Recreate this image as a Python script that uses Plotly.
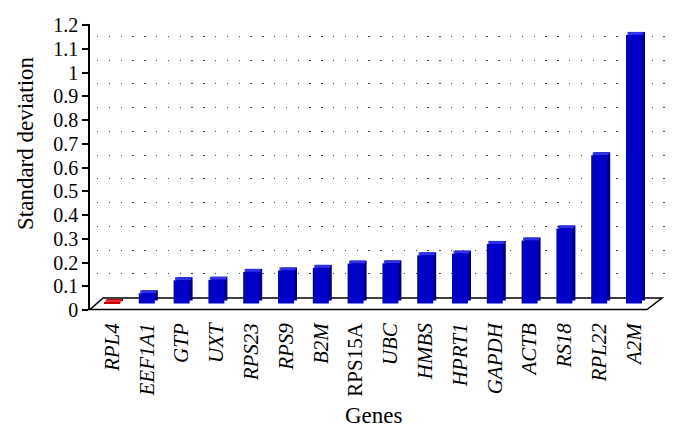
import plotly.graph_objects as go

# ---- data ----
genes = ["RPL4", "EEF1A1", "GTP", "UXT", "RPS23", "RPS9", "B2M", "RPS15A",
         "UBC", "HMBS", "HPRT1", "GAPDH", "ACTB", "RS18", "RPL22", "A2M"]
std_dev = [0.004, 0.043, 0.098, 0.100, 0.133, 0.139, 0.150, 0.168,
           0.169, 0.203, 0.210, 0.251, 0.265, 0.316, 0.624, 1.131]
upright_labels = ["RPS15A"]
highlight = ["RPL4"]
y_title = "Standard deviation"
x_title = "Genes"

# ---- geometry helpers (window pixels -> paper fractions) ----
OFF = 8                 # default page body margin
W, H = 676 - 2 * OFF, 436 - 2 * OFF
def px(x):
    return (x - OFF) / W
def py(y):
    return 1 - (y - OFF) / H

scale = 237.5          # px per unit
x_left, x_right = 90, 665
y_zero_front, y_top = 310, 24
y_zero_bar = 303.5
y_zero_back, y_top_back = 297.5, 12
cat_w = 34.8
first_center = 112

x_rng = [-0.5 - (first_center - cat_w / 2 - x_left) / cat_w,
         (x_right - first_center) / cat_w]
y2_max = (y_zero_front - y_top) / scale
shift = (y_zero_front - y_zero_bar) / scale

bar_w = 0.46
dx = 3 / cat_w
dy = 3 / scale

front_col = ["#c40000" if g in highlight else "#0000c8" for g in genes]
side_col = ["#7a0000" if g in highlight else "#000070" for g in genes]
top_col = ["#e83030" if g in highlight else "#3030ee" for g in genes]
ticktext = [g if g in upright_labels else f"<i>{g}</i>" for g in genes]

fig = go.Figure()

# dummy traces so the grid subplot and the label subplot exist
fig.add_trace(go.Scatter(x=[0], y=[None], xaxis="x", yaxis="y",
                         showlegend=False, hoverinfo="skip"))
fig.add_trace(go.Scatter(x=[genes[0]], y=[None], xaxis="x2", yaxis="y2",
                         showlegend=False, hoverinfo="skip"))

# side/back face
fig.add_trace(go.Bar(x=genes, y=std_dev, base=[dy] * len(genes),
                     width=bar_w, offset=-bar_w / 2 + dx,
                     marker=dict(color=side_col, line=dict(width=0)),
                     xaxis="x2", yaxis="y3", showlegend=False))
# top face
fig.add_trace(go.Bar(x=genes, y=[dy] * len(genes), base=std_dev,
                     width=bar_w, offset=-bar_w / 2 + dx / 2,
                     marker=dict(color=top_col, line=dict(width=0)),
                     xaxis="x2", yaxis="y3", showlegend=False))
# front face
fig.add_trace(go.Bar(x=genes, y=std_dev,
                     width=bar_w, offset=-bar_w / 2,
                     marker=dict(color=front_col, line=dict(width=0)),
                     xaxis="x2", yaxis="y3", showlegend=False))

serif = "Liberation Serif"

fig.update_layout(
    width=W, height=H,
    autosize=False,
    margin=dict(l=0, r=0, t=0, b=0, pad=0),
    paper_bgcolor="white",
    plot_bgcolor="rgba(0,0,0,0)",
    barmode="overlay",
    font=dict(family=serif, size=20, color="black"),
    xaxis=dict(domain=[px(97), px(x_right)], visible=False, range=[0, 1],
               anchor="y", automargin=False),
    yaxis=dict(domain=[py(y_zero_back), py(y_top_back)],
               range=[0, (y_zero_back - y_top_back) / scale],
               anchor="x", tick0=0, dtick=0.1, showgrid=True,
               gridcolor="#444444", gridwidth=1.3, griddash="1.3px,10.5px",
               showticklabels=False, zeroline=False, showline=False, ticks="",
               automargin=False),
    xaxis2=dict(domain=[px(x_left), px(x_right)], anchor="y2",
                type="category", range=x_rng,
                tickmode="array", tickvals=genes, ticktext=ticktext,
                tickangle=-90, tickfont=dict(family=serif, size=21),
                ticks="", ticklabelstandoff=8, automargin=False,
                showgrid=False, showline=False, zeroline=False),
    yaxis2=dict(domain=[py(y_zero_front), py(y_top)], anchor="x2",
                range=[0, y2_max], tick0=0, dtick=0.1,
                showline=True, linecolor="black", linewidth=1.5,
                ticks="outside", ticklen=6, tickcolor="black", tickwidth=1.5,
                showgrid=False, zeroline=False, automargin=False,
                tickfont=dict(family=serif, size=20)),
    yaxis3=dict(overlaying="y2", anchor="x2", range=[-shift, y2_max - shift],
                visible=False, showgrid=False, automargin=False),
    shapes=[dict(type="path", xref="paper", yref="paper", layer="below",
                 path=(f"M {px(90)},{py(309.5)} L {px(647)},{py(309.5)} "
                       f"L {px(662)},{py(298)} L {px(103)},{py(298)} Z"),
                 fillcolor="white", line=dict(color="black", width=1.5))],
    annotations=[
        dict(text=y_title, xref="paper", yref="paper", x=px(25), y=py(143),
             textangle=-90, showarrow=False, font=dict(family=serif, size=23),
             xanchor="center", yanchor="middle"),
        dict(text=x_title, xref="paper", yref="paper", x=px(374), y=py(415),
             showarrow=False, font=dict(family=serif, size=23),
             xanchor="center", yanchor="middle"),
    ],
)

fig.write_html("out.html")
